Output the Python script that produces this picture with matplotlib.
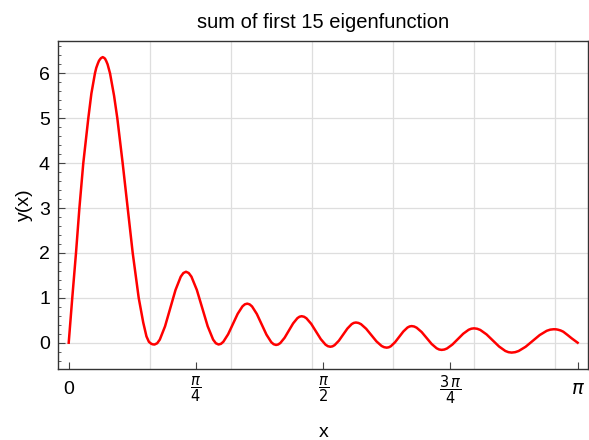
import numpy as np
import matplotlib
matplotlib.use("Agg")
import matplotlib.pyplot as plt
from matplotlib.ticker import MultipleLocator

plt.rcParams['font.family'] = ['Liberation Sans', 'DejaVu Sans']
plt.rcParams['mathtext.fontset'] = 'dejavusans'

# curve, (x, y) pairs
curve = [
    (0.0, 0.0), (0.022, 1.0), (0.045, 2.0), (0.066, 3.0), (0.090, 4.0),
    (0.121, 5.0), (0.140, 5.55), (0.162, 6.0), (0.170, 6.12), (0.180, 6.22),
    (0.187, 6.28), (0.195, 6.32), (0.200, 6.34), (0.210, 6.36), (0.220, 6.34),
    (0.225, 6.32), (0.232, 6.27), (0.240, 6.20), (0.247, 6.11), (0.255, 6.0),
    (0.265, 5.8), (0.280, 5.5), (0.300, 5.0), (0.333, 4.0), (0.364, 3.0),
    (0.395, 2.0), (0.432, 1.0), (0.460, 0.45), (0.480, 0.14), (0.495, 0.02),
    (0.510, -0.025), (0.520, -0.037), (0.530, -0.04),
    # 2nd lobe
    (0.5462, -0.012), (0.5623, 0.069), (0.5947, 0.365), (0.627, 0.77),
    (0.6593, 1.175), (0.6917, 1.471), (0.7078, 1.552), (0.724, 1.58),
    (0.7408, 1.552), (0.7575, 1.471), (0.791, 1.175), (0.8245, 0.77),
    (0.858, 0.365), (0.8915, 0.069), (0.9083, -0.012), (0.925, -0.04),
    # 3rd
    (0.9398, -0.025), (0.9545, 0.021), (0.984, 0.188), (1.0135, 0.415),
    (1.043, 0.643), (1.0725, 0.809), (1.0873, 0.855), (1.102, 0.87),
    (1.1168, 0.854), (1.1317, 0.808), (1.1613, 0.64), (1.191, 0.41),
    (1.2207, 0.18), (1.2503, 0.012), (1.2652, -0.034), (1.280, -0.05),
    # 4th
    (1.2932, -0.039), (1.3063, -0.007), (1.3327, 0.11), (1.359, 0.27),
    (1.3853, 0.43), (1.4117, 0.547), (1.4248, 0.579), (1.438, 0.59),
    (1.4528, 0.578), (1.4675, 0.544), (1.497, 0.42), (1.5265, 0.25),
    (1.556, 0.08), (1.5855, -0.044), (1.6002, -0.078), (1.615, -0.09),
    # 5th
    (1.6282, -0.081), (1.6413, -0.054), (1.6677, 0.045), (1.694, 0.18),
    (1.7203, 0.315), (1.7467, 0.414), (1.7598, 0.441), (1.773, 0.45),
    (1.7888, 0.44), (1.8047, 0.412), (1.8363, 0.31), (1.868, 0.17),
    (1.8997, 0.03), (1.9313, -0.072), (1.9472, -0.10), (1.963, -0.11),
    # 6th
    (1.9758, -0.102), (1.9887, -0.078), (2.0143, 0.01), (2.040, 0.13),
    (2.0657, 0.25), (2.0913, 0.338), (2.1042, 0.362), (2.117, 0.37),
    (2.1324, 0.361), (2.1478, 0.334), (2.1787, 0.238), (2.2095, 0.105),
    (2.2403, -0.028), (2.2712, -0.124), (2.2866, -0.151), (2.302, -0.16),
    # 7th
    (2.3187, -0.152), (2.3353, -0.128), (2.3687, -0.04), (2.402, 0.08),
    (2.4353, 0.20), (2.4687, 0.288), (2.4853, 0.312), (2.502, 0.32),
    (2.5213, 0.311), (2.5407, 0.284), (2.5793, 0.185), (2.618, 0.05),
    (2.6567, -0.085), (2.6953, -0.184), (2.7147, -0.211), (2.734, -0.22),
    # 8th
    (2.7557, -0.211), (2.7773, -0.185), (2.8207, -0.09), (2.864, 0.04),
    (2.9073, 0.17), (2.9507, 0.265), (2.9723, 0.291), (2.994, 0.30),
    (3.008, 0.298), (3.020, 0.29), (3.037, 0.272), (3.053, 0.245),
    (3.080, 0.17), (3.104, 0.10), (3.1416, 0.0),
]
x_pts = np.array([p[0] for p in curve])
y_pts = np.array([p[1] for p in curve])

x_ticks = [0, np.pi / 4, np.pi / 2, 3 * np.pi / 4, np.pi]
x_ticklabels = ['0', r'$\dfrac{\pi}{4}$', r'$\dfrac{\pi}{2}$',
                r'$\dfrac{3\,\pi}{4}$', r'$\pi$']
y_ticks = [0, 1, 2, 3, 4, 5, 6]

fig = plt.figure(figsize=(5.89, 4.40), dpi=100)
ax = fig.add_axes([0.099, 0.1607, 0.8998, 0.7461])

ax.plot(x_pts, y_pts, color='#ff0000', lw=1.8, solid_joinstyle='round')

ax.set_xlim(-0.0642, 3.2074)
ax.set_ylim(-0.592, 6.719)

# grid like mathematica
for gx in np.arange(0.5, 3.1, 0.5):
    ax.axvline(gx, color='#dedede', lw=0.9, zorder=0)
for gy in y_ticks:
    ax.axhline(gy, color='#dedede', lw=0.9, zorder=0)

ax.set_xticks(x_ticks)
ax.set_xticklabels(x_ticklabels)
ax.set_yticks(y_ticks)
ax.yaxis.set_minor_locator(MultipleLocator(0.2))
ax.tick_params(axis='both', which='both', direction='in', top=False, right=False,
               labelsize=14, color='#444444')
ax.tick_params(axis='y', which='major', length=5, width=0.8, pad=6)
ax.tick_params(axis='y', which='minor', length=2.5, width=0.6)
ax.tick_params(axis='x', which='major', length=5, width=0.8, pad=14.5)
for lab in ax.get_xticklabels():
    lab.set_verticalalignment('center')
for lab in ax.get_xticklabels()[1:4]:
    lab.set_fontsize(10.5)

for s in ax.spines.values():
    s.set_color('#333333')
    s.set_linewidth(1.0)

ax.set_title('sum of first 15 eigenfunction', fontsize=14.5, pad=9.5)
ax.set_ylabel('y(x)', fontsize=14, labelpad=4)
# x label placed under the centered tick labels
ax.text(0.5, -0.166, 'x', transform=ax.transAxes, ha='center', va='top', fontsize=14)

fig.savefig('out.png', dpi=100)
